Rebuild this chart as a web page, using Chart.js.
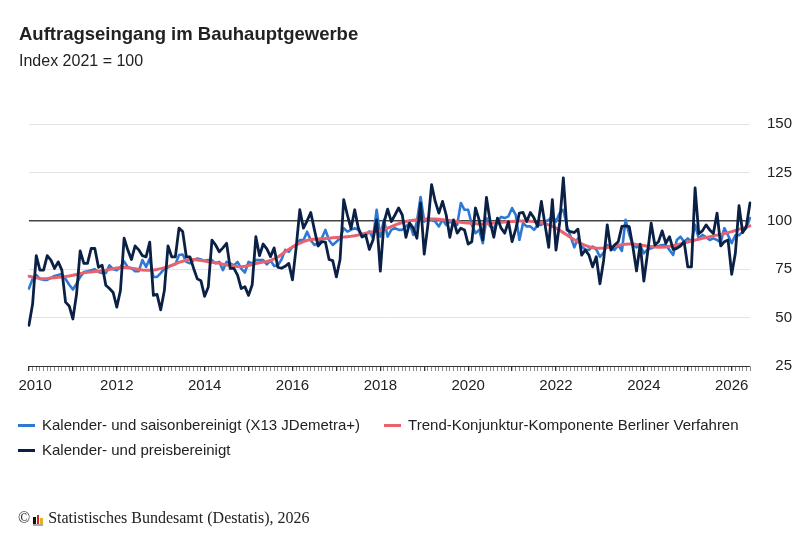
<!DOCTYPE html>
<html lang="de">
<head>
<meta charset="utf-8">
<title>Auftragseingang im Bauhauptgewerbe</title>
<script src="https://cdn.jsdelivr.net/npm/chart.js@4.4.1/dist/chart.umd.min.js"></script>
<style>
    html, body { margin: 0; padding: 0; background: #fff; }
    #wrap {
        position: relative; width: 810px; height: 540px; overflow: hidden;
        font-family: "Liberation Sans", Arial, sans-serif; color: #222;
    }
    #chart { position: absolute; left: 0; top: 0; }
    .title { position: absolute; left: 19px; top: 23px; font-size: 18.5px; font-weight: bold; white-space: nowrap; }
    .subtitle { position: absolute; left: 19px; top: 52px; font-size: 16px; white-space: nowrap; }
    #legend {
        position: absolute; left: 18px; top: 416px; width: 770px;
        display: flex; flex-wrap: wrap; column-gap: 24px; row-gap: 7px;
        font-size: 15px; line-height: 18px;
    }
    .legend-item { display: flex; align-items: center; white-space: nowrap; }
    .legend-swatch { width: 17px; height: 3px; margin-right: 7px; }
    .source {
        position: absolute; left: 18px; top: 509px; white-space: nowrap;
        font-family: "Liberation Serif", "Times New Roman", serif; font-size: 16px; color: #222;
    }
    .logo {
        display: inline-flex; align-items: flex-end; gap: 1px; height: 10px; width: 10px;
        border-bottom: 2px solid #aaa; margin: 0 5px 0 3px; vertical-align: -1px;
    }
    .logo span { display: block; width: 2.5px; }
</style>
</head>
<body>
<div id="wrap">
    <canvas id="chart" width="810" height="540"></canvas>
    <div class="title">Auftragseingang im Bauhauptgewerbe</div>
    <div class="subtitle">Index 2021 = 100</div>
    <div id="legend"></div>
    <div class="source">©<span class="logo"><span style="height:7px;background:#111"></span><span style="height:9px;background:#d21f26"></span><span style="height:6px;background:#e8b21a"></span></span>Statistisches Bundesamt (Destatis), 2026</div>
</div>

<script>
// Monthly series, Jan 2010 onwards
const startYear = 2010;

// Kalender- und saisonbereinigt (X13 JDemetra+)
const seasonalAdjusted = [
    65, 70, 72, 70, 69.5, 69.5, 70.5, 71.5, 72, 72.5, 70, 67,
    64.5, 67.5, 71, 73.5, 74, 74.5, 75, 73.5, 73, 73, 77, 75,
    74.5, 76, 79, 76, 75.5, 74, 74, 79.7, 76.2, 80.5, 71, 71,
    73, 75.3, 76, 77, 77.5, 82.3, 82.6, 78.8, 78, 79.7, 80.5, 80,
    79.3, 79.7, 79.7, 78, 78.8, 74.5, 78.8, 78, 77, 78.8, 75.3, 73.3,
    78.8, 78, 79.7, 79.7, 79.7, 77.5, 79.5, 76.6, 77, 80, 85, 84,
    86.5, 87.5, 90, 90, 94.4, 90, 87.5, 88.4, 91, 95.3, 90, 87.5,
    89.2, 91, 96.2, 94.4, 95.3, 96.2, 95.3, 91.5, 92.5, 94.5, 91, 105.7,
    91.8, 100.5, 91.8, 95.3, 96.2, 95.3, 95.3, 97.1, 98.8, 92.7, 99.6, 112.3,
    99.6, 101.4, 100.5, 99.6, 97.1, 100.5, 97.9, 99.6, 98.8, 97.9, 109.2, 105.7,
    105.7, 97.9, 93.6, 95.3, 88.4, 101.4, 97.1, 96.2, 99.6, 102, 101.4, 102.3,
    106.6, 103.1, 90.1, 98.8, 97.1, 97.1, 95.3, 97.9, 97.9, 99.6, 100.5, 102.3,
    99.6, 104, 105.7, 97.1, 91.8, 86.3, 91, 86.7, 85.2, 84.9, 86.7, 85.2,
    81.4, 83.5, 87.5, 85.8, 84.9, 87.5, 84.4, 100.5, 93, 87.5, 86.3, 87.5,
    83.2, 85.2, 85.8, 86.7, 87, 87.5, 87.5, 84.9, 82.3, 90.1, 91.8, 89.2,
    90.9, 89.2, 97.9, 90.9, 92.7, 91.5, 90.1, 90.9, 90.1, 88.8, 96.2, 92.5,
    88.4, 92.5, 92.5, 94.4, 96.2, 101.4
];

// Trend-Konjunktur-Komponente Berliner Verfahren
const trendComponent = [
    71.4, 71.0, 70.6, 70.2, 70.1, 70.2, 70.4, 70.6, 70.8, 71.0, 71.2, 71.5,
    71.9, 72.3, 72.8, 73.1, 73.4, 73.6, 73.8, 74.0, 74.2, 74.4, 74.8, 75.2,
    75.6, 75.9, 76.0, 75.8, 75.5, 75.2, 74.9, 74.6, 74.5, 74.5, 74.6, 74.9,
    75.3, 75.8, 76.3, 77.0, 77.8, 78.5, 79.1, 79.6, 80.0, 80.0, 79.8, 79.5,
    79.2, 78.9, 78.6, 78.3, 78.0, 77.6, 77.2, 76.9, 76.6, 76.4, 76.3, 76.5,
    76.9, 77.4, 77.9, 78.3, 78.7, 79.0, 79.5, 80.3, 81.3, 82.6, 84.0, 85.3,
    86.5, 87.6, 88.5, 89.3, 89.9, 90.3, 90.5, 90.6, 90.7, 90.8, 91.0, 91.2,
    91.4, 91.5, 91.6, 91.8, 92.0, 92.3, 92.7, 93.2, 93.6, 94.0, 94.3, 94.6,
    95.0, 95.5, 96.2, 97.0, 97.8, 98.5, 99.1, 99.6, 100.0, 100.3, 100.5, 100.7,
    100.8, 100.9, 100.9, 100.9, 100.8, 100.6, 100.3, 100.1, 99.9, 99.6, 99.2, 99.0,
    98.8, 98.6, 98.5, 98.4, 98.4, 98.5, 98.6, 98.8, 99.0, 99.2, 99.4, 99.6,
    99.7, 99.8, 99.9, 99.9, 99.9, 99.8, 99.6, 99.3, 99.0, 98.5, 97.9, 97.1,
    96.2, 95.1, 93.9, 92.7, 91.4, 90.2, 89.1, 88.1, 87.3, 86.6, 86.1, 85.9,
    85.8, 85.9, 86.2, 86.6, 87.0, 87.4, 87.7, 87.9, 88.0, 88.0, 87.8, 87.5,
    87.2, 86.9, 86.7, 86.5, 86.4, 86.4, 86.5, 86.8, 87.1, 87.5, 88.0, 88.5,
    89.0, 89.5, 90.0, 90.5, 91.0, 91.4, 91.8, 92.2, 92.6, 93.0, 93.4, 93.9,
    94.4, 95.0, 95.6, 96.2, 96.8, 97.4
];

// Kalender- und preisbereinigt
const priceAdjusted = [
    46, 57, 82, 74.5, 74.5, 82, 79.7, 75.4, 78.8, 74.5, 58, 56,
    49.3, 62, 84.5, 78, 78, 85.7, 85.7, 76, 77, 66.7, 65, 63,
    55.4, 64, 91, 85, 80, 87, 85, 82, 81.4, 89, 61.5, 62,
    54, 64, 87, 81.4, 81.4, 96.2, 94.5, 81.4, 81.4, 75.4, 70, 69,
    61, 65.8, 90, 87.5, 84, 86, 88.4, 75.4, 75.4, 71.9, 65, 66,
    61.5, 67, 91.8, 82, 88, 85.5, 81.5, 86, 76, 75.5, 76.5, 78,
    69.5, 86, 105.7, 96.2, 100, 104.3, 95.3, 87, 89.2, 89, 80, 79.4,
    71, 80, 110.9, 103, 96, 105.7, 96.2, 91.8, 92.7, 85.2, 90.1, 100.5,
    74, 99, 106, 99.6, 103, 106.6, 103, 91.5, 98.8, 96.2, 91, 109.2,
    82.8, 97.9, 118.7, 110, 104, 110, 103, 91.5, 100.5, 93.6, 96.2, 95.3,
    88, 89.2, 106.6, 100.5, 90.1, 112.1, 99.6, 91.5, 101.4, 96.2, 93.6, 99.6,
    89.2, 95.7, 104, 104.3, 99.6, 104.3, 101.4, 97.1, 110, 97.9, 86.3, 110.9,
    84.9, 99, 122.2, 95.3, 94.4, 93.9, 95.7, 82.3, 84.9, 82.3, 76.2, 81.4,
    67.5, 79.4, 97.9, 84.9, 87.5, 89.2, 97.1, 97.4, 97, 86.6, 74.1, 87.9,
    68.9, 83.2, 98.8, 87.5, 89.2, 94.8, 88.4, 91.8, 85.2, 85.8, 87, 89.2,
    76.2, 76.2, 117, 93.4, 94.8, 97.9, 95.3, 93.4, 104, 87, 89.2, 90.1,
    72.4, 83.2, 107.8, 93.9, 97.1, 109.2
];

// Axis labels
const yearTicks = ['2010', '2012', '2014', '2016', '2018', '2020', '2022', '2024', '2026'];
const yMin = 25, yMax = 150, yStep = 25;

// Month categories "YYYY-MM"
const months = priceAdjusted.map((_, i) => {
    const y = startYear + Math.floor(i / 12);
    const m = String(i % 12 + 1).padStart(2, '0');
    return `${y}-${m}`;
});

const FONT = '"Liberation Sans", Arial, sans-serif';

const chart = new Chart(document.getElementById('chart'), {
    type: 'line',
    data: {
        labels: months,
        datasets: [
            {
                label: 'Kalender- und saisonbereinigt (X13 JDemetra+)',
                data: seasonalAdjusted,
                borderColor: '#2f79d4',
                backgroundColor: '#2f79d4',
                borderWidth: 2.6,
                order: 2
            },
            {
                label: 'Trend-Konjunktur-Komponente Berliner Verfahren',
                data: trendComponent,
                borderColor: '#e9636f',
                backgroundColor: '#e9636f',
                borderWidth: 3,
                order: 1
            },
            {
                label: 'Kalender- und preisbereinigt',
                data: priceAdjusted,
                borderColor: '#0b2045',
                backgroundColor: '#0b2045',
                borderWidth: 2.8,
                order: 0
            }
        ]
    },
    options: {
        responsive: false,
        animation: false,
        layout: { padding: { top: 124, left: 27, right: 18, bottom: 144 } },
        elements: {
            point: { radius: 0 },
            line: { tension: 0, borderJoinStyle: 'round', borderCapStyle: 'round' }
        },
        plugins: {
            legend: { display: false },
            title: { display: false },
            tooltip: { enabled: false }
        },
        scales: {
            x: {
                type: 'category',
                offset: false,
                grid: {
                    drawOnChartArea: false,
                    drawTicks: true,
                    tickLength: 5,
                    color: (ctx) => (months[ctx.index] || '').endsWith('-01') ? '#333' : '#8a8a8a',
                    lineWidth: (ctx) => (months[ctx.index] || '').endsWith('-01') ? 1.3 : 1
                },
                border: { display: true, color: '#333', width: 1 },
                ticks: {
                    autoSkip: false,
                    maxRotation: 0,
                    minRotation: 0,
                    padding: 6,
                    color: '#222',
                    font: { family: FONT, size: 15 },
                    callback: (value, index) => {
                        const lab = months[index];
                        const yr = lab.slice(0, 4);
                        if (!lab.endsWith('-01') || !yearTicks.includes(yr)) return '';
                        // first label sits a bit right of its tick, as in the original
                        return index === 0 ? '\u2007\u2008' + yr : yr;
                    }
                },
                afterFit: (scale) => { scale.height = 30; }
            },
            y: {
                position: 'right',
                min: yMin,
                max: yMax,
                grid: {
                    drawTicks: false,
                    color: (ctx) => {
                        const v = ctx.tick ? ctx.tick.value : null;
                        if (v === 100) return '#444';
                        if (v === yMin) return '#333';
                        return '#e3e3e3';
                    },
                    lineWidth: (ctx) => (ctx.tick && ctx.tick.value === 100) ? 1.5 : 1
                },
                border: { display: false },
                ticks: {
                    stepSize: yStep,
                    padding: 17,
                    crossAlign: 'far',
                    color: '#222',
                    font: { family: FONT, size: 15 }
                },
                afterFit: (scale) => { scale.width = 42; }
            }
        }
    }
});

// HTML legend built from the datasets
const legendEl = document.getElementById('legend');
chart.data.datasets.forEach(ds => {
    const item = document.createElement('div');
    item.className = 'legend-item';

    const swatch = document.createElement('span');
    swatch.className = 'legend-swatch';
    swatch.style.background = ds.borderColor;
    item.appendChild(swatch);

    const text = document.createElement('span');
    text.textContent = ds.label;
    item.appendChild(text);

    legendEl.appendChild(item);
});
</script>
</body>
</html>
